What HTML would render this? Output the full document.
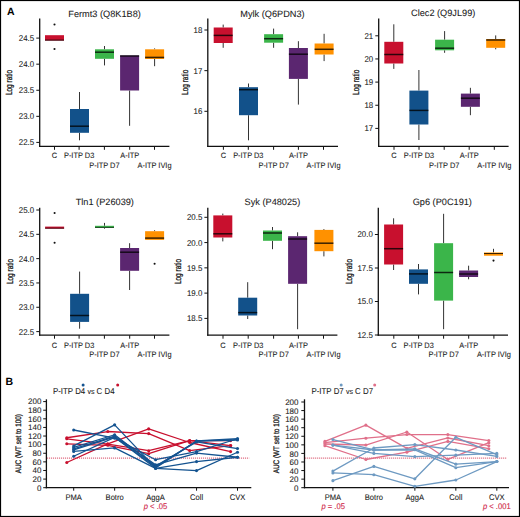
<!DOCTYPE html>
<html><head><meta charset="utf-8"><style>html,body{margin:0;padding:0;background:#fff;width:520px;height:517px;overflow:hidden;position:relative}</style></head>
<body>
<svg width="520" height="517" viewBox="0 0 520 517" style="position:absolute;left:0;top:0">
<g font-family='"Liberation Sans", sans-serif' text-rendering='geometricPrecision'>
<rect x="0.5" y="0.5" width="519" height="516" fill="none" stroke="#000" stroke-width="1.2"/>
<text x="7.00" y="15.20" font-size="10.5" text-anchor="start" fill="#000" font-weight="bold" >A</text>
<text x="5.50" y="385.30" font-size="10.5" text-anchor="start" fill="#000" font-weight="bold" >B</text>
<text x="68.30" y="16.60" font-size="9.2" text-anchor="start" fill="#1a1a1a" font-weight="normal"  stroke="#1a1a1a" stroke-width="0.08">Fermt3 (Q8K1B8)</text>
<line x1="39.70" y1="18.40" x2="39.70" y2="146.90" stroke="#111" stroke-width="1.3" />
<line x1="39.10" y1="146.30" x2="169.40" y2="146.30" stroke="#111" stroke-width="1.3" />
<line x1="36.30" y1="38.10" x2="39.70" y2="38.10" stroke="#111" stroke-width="1.0" />
<text x="0" y="0" transform="translate(34.20,41.05) scale(0.94,1)" font-size="8.4" text-anchor="end" fill="#1a1a1a" font-weight="normal"  stroke="#1a1a1a" stroke-width="0.08">24.5</text>
<line x1="36.30" y1="64.18" x2="39.70" y2="64.18" stroke="#111" stroke-width="1.0" />
<text x="0" y="0" transform="translate(34.20,67.13) scale(0.94,1)" font-size="8.4" text-anchor="end" fill="#1a1a1a" font-weight="normal"  stroke="#1a1a1a" stroke-width="0.08">24.0</text>
<line x1="36.30" y1="90.25" x2="39.70" y2="90.25" stroke="#111" stroke-width="1.0" />
<text x="0" y="0" transform="translate(34.20,93.20) scale(0.94,1)" font-size="8.4" text-anchor="end" fill="#1a1a1a" font-weight="normal"  stroke="#1a1a1a" stroke-width="0.08">23.5</text>
<line x1="36.30" y1="116.33" x2="39.70" y2="116.33" stroke="#111" stroke-width="1.0" />
<text x="0" y="0" transform="translate(34.20,119.28) scale(0.94,1)" font-size="8.4" text-anchor="end" fill="#1a1a1a" font-weight="normal"  stroke="#1a1a1a" stroke-width="0.08">23.0</text>
<line x1="36.30" y1="142.40" x2="39.70" y2="142.40" stroke="#111" stroke-width="1.0" />
<text x="0" y="0" transform="translate(34.20,145.35) scale(0.94,1)" font-size="8.4" text-anchor="end" fill="#1a1a1a" font-weight="normal"  stroke="#1a1a1a" stroke-width="0.08">22.5</text>
<line x1="54.50" y1="146.30" x2="54.50" y2="149.80" stroke="#111" stroke-width="1.0" />
<text x="0" y="0" transform="translate(54.50,158.30) scale(0.95,1)" font-size="7.8" text-anchor="middle" fill="#1a1a1a" font-weight="normal"  stroke="#1a1a1a" stroke-width="0.08">C</text>
<line x1="79.10" y1="146.30" x2="79.10" y2="149.80" stroke="#111" stroke-width="1.0" />
<text x="0" y="0" transform="translate(79.10,158.30) scale(0.95,1)" font-size="7.8" text-anchor="middle" fill="#1a1a1a" font-weight="normal"  stroke="#1a1a1a" stroke-width="0.08">P-ITP D3</text>
<line x1="104.40" y1="146.30" x2="104.40" y2="149.80" stroke="#111" stroke-width="1.0" />
<text x="0" y="0" transform="translate(104.40,168.00) scale(0.95,1)" font-size="7.8" text-anchor="middle" fill="#1a1a1a" font-weight="normal"  stroke="#1a1a1a" stroke-width="0.08">P-ITP D7</text>
<line x1="129.70" y1="146.30" x2="129.70" y2="149.80" stroke="#111" stroke-width="1.0" />
<text x="0" y="0" transform="translate(129.70,158.30) scale(0.95,1)" font-size="7.8" text-anchor="middle" fill="#1a1a1a" font-weight="normal"  stroke="#1a1a1a" stroke-width="0.08">A-ITP</text>
<line x1="154.50" y1="146.30" x2="154.50" y2="149.80" stroke="#111" stroke-width="1.0" />
<text x="0" y="0" transform="translate(154.50,168.00) scale(0.95,1)" font-size="7.8" text-anchor="middle" fill="#1a1a1a" font-weight="normal"  stroke="#1a1a1a" stroke-width="0.08">A-ITP IVIg</text>
<text x="0" y="0" font-size="9.0" text-anchor="middle" fill="#1a1a1a" stroke="#1a1a1a" stroke-width="0.32" transform="translate(12.2,82.5) rotate(-90) scale(0.72,1)">Log ratio</text>
<rect x="45.00" y="35.20" width="19.00" height="5.40" fill="#C8102E"/>
<line x1="45.00" y1="40.10" x2="64.00" y2="40.10" stroke="#000" stroke-width="1.0" stroke-opacity="0.78"/>
<circle cx="54.50" cy="24.50" r="1.05" fill="#111"/>
<circle cx="54.50" cy="49.00" r="1.05" fill="#111"/>
<line x1="79.50" y1="92.00" x2="79.50" y2="109.00" stroke="#333" stroke-width="1.0" />
<line x1="79.50" y1="132.80" x2="79.50" y2="140.30" stroke="#333" stroke-width="1.0" />
<rect x="70.00" y="109.00" width="19.00" height="23.80" fill="#12518A"/>
<line x1="70.00" y1="126.20" x2="89.00" y2="126.20" stroke="#000" stroke-width="1.5" stroke-opacity="0.78"/>
<line x1="104.50" y1="46.00" x2="104.50" y2="49.30" stroke="#333" stroke-width="1.0" />
<line x1="104.50" y1="58.80" x2="104.50" y2="65.40" stroke="#333" stroke-width="1.0" />
<rect x="95.00" y="49.30" width="19.00" height="9.50" fill="#3BB54A"/>
<line x1="95.00" y1="52.20" x2="114.00" y2="52.20" stroke="#000" stroke-width="1.5" stroke-opacity="0.78"/>
<line x1="129.60" y1="90.50" x2="129.60" y2="125.80" stroke="#333" stroke-width="1.0" />
<rect x="120.10" y="55.50" width="19.00" height="35.00" fill="#5B2670"/>
<line x1="120.10" y1="56.00" x2="139.10" y2="56.00" stroke="#000" stroke-width="1.5" stroke-opacity="0.78"/>
<line x1="154.60" y1="48.40" x2="154.60" y2="49.30" stroke="#333" stroke-width="1.0" />
<line x1="154.60" y1="59.00" x2="154.60" y2="66.20" stroke="#333" stroke-width="1.0" />
<rect x="145.10" y="49.30" width="19.00" height="9.70" fill="#FF9100"/>
<line x1="145.10" y1="57.40" x2="164.10" y2="57.40" stroke="#000" stroke-width="1.5" stroke-opacity="0.78"/>
<text x="240.30" y="16.50" font-size="9.2" text-anchor="start" fill="#1a1a1a" font-weight="normal"  stroke="#1a1a1a" stroke-width="0.08">Mylk (Q6PDN3)</text>
<line x1="207.80" y1="18.40" x2="207.80" y2="146.90" stroke="#111" stroke-width="1.3" />
<line x1="207.20" y1="146.30" x2="338.00" y2="146.30" stroke="#111" stroke-width="1.3" />
<line x1="204.40" y1="30.00" x2="207.80" y2="30.00" stroke="#111" stroke-width="1.0" />
<text x="0" y="0" transform="translate(202.30,32.95) scale(0.94,1)" font-size="8.4" text-anchor="end" fill="#1a1a1a" font-weight="normal"  stroke="#1a1a1a" stroke-width="0.08">18</text>
<line x1="204.40" y1="70.65" x2="207.80" y2="70.65" stroke="#111" stroke-width="1.0" />
<text x="0" y="0" transform="translate(202.30,73.60) scale(0.94,1)" font-size="8.4" text-anchor="end" fill="#1a1a1a" font-weight="normal"  stroke="#1a1a1a" stroke-width="0.08">17</text>
<line x1="204.40" y1="111.30" x2="207.80" y2="111.30" stroke="#111" stroke-width="1.0" />
<text x="0" y="0" transform="translate(202.30,114.25) scale(0.94,1)" font-size="8.4" text-anchor="end" fill="#1a1a1a" font-weight="normal"  stroke="#1a1a1a" stroke-width="0.08">16</text>
<line x1="223.40" y1="146.30" x2="223.40" y2="149.80" stroke="#111" stroke-width="1.0" />
<text x="0" y="0" transform="translate(223.40,158.30) scale(0.95,1)" font-size="7.8" text-anchor="middle" fill="#1a1a1a" font-weight="normal"  stroke="#1a1a1a" stroke-width="0.08">C</text>
<line x1="248.30" y1="146.30" x2="248.30" y2="149.80" stroke="#111" stroke-width="1.0" />
<text x="0" y="0" transform="translate(248.30,158.30) scale(0.95,1)" font-size="7.8" text-anchor="middle" fill="#1a1a1a" font-weight="normal"  stroke="#1a1a1a" stroke-width="0.08">P-ITP D3</text>
<line x1="273.60" y1="146.30" x2="273.60" y2="149.80" stroke="#111" stroke-width="1.0" />
<text x="0" y="0" transform="translate(273.60,168.00) scale(0.95,1)" font-size="7.8" text-anchor="middle" fill="#1a1a1a" font-weight="normal"  stroke="#1a1a1a" stroke-width="0.08">P-ITP D7</text>
<line x1="298.40" y1="146.30" x2="298.40" y2="149.80" stroke="#111" stroke-width="1.0" />
<text x="0" y="0" transform="translate(298.40,158.30) scale(0.95,1)" font-size="7.8" text-anchor="middle" fill="#1a1a1a" font-weight="normal"  stroke="#1a1a1a" stroke-width="0.08">A-ITP</text>
<line x1="323.50" y1="146.30" x2="323.50" y2="149.80" stroke="#111" stroke-width="1.0" />
<text x="0" y="0" transform="translate(323.50,168.00) scale(0.95,1)" font-size="7.8" text-anchor="middle" fill="#1a1a1a" font-weight="normal"  stroke="#1a1a1a" stroke-width="0.08">A-ITP IVIg</text>
<text x="0" y="0" font-size="9.0" text-anchor="middle" fill="#1a1a1a" stroke="#1a1a1a" stroke-width="0.32" transform="translate(187.5,82.3) rotate(-90) scale(0.72,1)">Log ratio</text>
<line x1="223.20" y1="24.60" x2="223.20" y2="27.50" stroke="#333" stroke-width="1.0" />
<line x1="223.20" y1="43.00" x2="223.20" y2="47.80" stroke="#333" stroke-width="1.0" />
<rect x="213.70" y="27.50" width="19.00" height="15.50" fill="#C8102E"/>
<line x1="213.70" y1="35.40" x2="232.70" y2="35.40" stroke="#000" stroke-width="1.5" stroke-opacity="0.78"/>
<line x1="248.50" y1="83.50" x2="248.50" y2="87.20" stroke="#333" stroke-width="1.0" />
<line x1="248.50" y1="115.20" x2="248.50" y2="140.30" stroke="#333" stroke-width="1.0" />
<rect x="239.00" y="87.20" width="19.00" height="28.00" fill="#12518A"/>
<line x1="239.00" y1="89.70" x2="258.00" y2="89.70" stroke="#000" stroke-width="1.5" stroke-opacity="0.78"/>
<line x1="273.60" y1="28.60" x2="273.60" y2="34.20" stroke="#333" stroke-width="1.0" />
<line x1="273.60" y1="42.70" x2="273.60" y2="47.80" stroke="#333" stroke-width="1.0" />
<rect x="264.10" y="34.20" width="19.00" height="8.50" fill="#3BB54A"/>
<line x1="264.10" y1="38.70" x2="283.10" y2="38.70" stroke="#000" stroke-width="1.5" stroke-opacity="0.78"/>
<line x1="298.40" y1="41.20" x2="298.40" y2="48.00" stroke="#333" stroke-width="1.0" />
<line x1="298.40" y1="78.90" x2="298.40" y2="104.60" stroke="#333" stroke-width="1.0" />
<rect x="288.90" y="48.00" width="19.00" height="30.90" fill="#5B2670"/>
<line x1="288.90" y1="54.20" x2="307.90" y2="54.20" stroke="#000" stroke-width="1.5" stroke-opacity="0.78"/>
<line x1="324.10" y1="33.80" x2="324.10" y2="43.50" stroke="#333" stroke-width="1.0" />
<line x1="324.10" y1="54.50" x2="324.10" y2="61.10" stroke="#333" stroke-width="1.0" />
<rect x="314.60" y="43.50" width="19.00" height="11.00" fill="#FF9100"/>
<line x1="314.60" y1="49.30" x2="333.60" y2="49.30" stroke="#000" stroke-width="1.5" stroke-opacity="0.78"/>
<text x="411.00" y="16.30" font-size="9.2" text-anchor="start" fill="#1a1a1a" font-weight="normal"  stroke="#1a1a1a" stroke-width="0.08">Clec2 (Q9JL99)</text>
<line x1="378.70" y1="18.40" x2="378.70" y2="146.90" stroke="#111" stroke-width="1.3" />
<line x1="378.10" y1="146.30" x2="508.60" y2="146.30" stroke="#111" stroke-width="1.3" />
<line x1="375.30" y1="35.80" x2="378.70" y2="35.80" stroke="#111" stroke-width="1.0" />
<text x="0" y="0" transform="translate(373.20,38.75) scale(0.94,1)" font-size="8.4" text-anchor="end" fill="#1a1a1a" font-weight="normal"  stroke="#1a1a1a" stroke-width="0.08">21</text>
<line x1="375.30" y1="58.95" x2="378.70" y2="58.95" stroke="#111" stroke-width="1.0" />
<text x="0" y="0" transform="translate(373.20,61.90) scale(0.94,1)" font-size="8.4" text-anchor="end" fill="#1a1a1a" font-weight="normal"  stroke="#1a1a1a" stroke-width="0.08">20</text>
<line x1="375.30" y1="82.10" x2="378.70" y2="82.10" stroke="#111" stroke-width="1.0" />
<text x="0" y="0" transform="translate(373.20,85.05) scale(0.94,1)" font-size="8.4" text-anchor="end" fill="#1a1a1a" font-weight="normal"  stroke="#1a1a1a" stroke-width="0.08">19</text>
<line x1="375.30" y1="105.25" x2="378.70" y2="105.25" stroke="#111" stroke-width="1.0" />
<text x="0" y="0" transform="translate(373.20,108.20) scale(0.94,1)" font-size="8.4" text-anchor="end" fill="#1a1a1a" font-weight="normal"  stroke="#1a1a1a" stroke-width="0.08">18</text>
<line x1="375.30" y1="128.40" x2="378.70" y2="128.40" stroke="#111" stroke-width="1.0" />
<text x="0" y="0" transform="translate(373.20,131.35) scale(0.94,1)" font-size="8.4" text-anchor="end" fill="#1a1a1a" font-weight="normal"  stroke="#1a1a1a" stroke-width="0.08">17</text>
<line x1="394.00" y1="146.30" x2="394.00" y2="149.80" stroke="#111" stroke-width="1.0" />
<text x="0" y="0" transform="translate(394.00,158.30) scale(0.95,1)" font-size="7.8" text-anchor="middle" fill="#1a1a1a" font-weight="normal"  stroke="#1a1a1a" stroke-width="0.08">C</text>
<line x1="419.00" y1="146.30" x2="419.00" y2="149.80" stroke="#111" stroke-width="1.0" />
<text x="0" y="0" transform="translate(419.00,158.30) scale(0.95,1)" font-size="7.8" text-anchor="middle" fill="#1a1a1a" font-weight="normal"  stroke="#1a1a1a" stroke-width="0.08">P-ITP D3</text>
<line x1="444.20" y1="146.30" x2="444.20" y2="149.80" stroke="#111" stroke-width="1.0" />
<text x="0" y="0" transform="translate(444.20,168.00) scale(0.95,1)" font-size="7.8" text-anchor="middle" fill="#1a1a1a" font-weight="normal"  stroke="#1a1a1a" stroke-width="0.08">P-ITP D7</text>
<line x1="469.20" y1="146.30" x2="469.20" y2="149.80" stroke="#111" stroke-width="1.0" />
<text x="0" y="0" transform="translate(469.20,158.30) scale(0.95,1)" font-size="7.8" text-anchor="middle" fill="#1a1a1a" font-weight="normal"  stroke="#1a1a1a" stroke-width="0.08">A-ITP</text>
<line x1="494.30" y1="146.30" x2="494.30" y2="149.80" stroke="#111" stroke-width="1.0" />
<text x="0" y="0" transform="translate(494.30,168.00) scale(0.95,1)" font-size="7.8" text-anchor="middle" fill="#1a1a1a" font-weight="normal"  stroke="#1a1a1a" stroke-width="0.08">A-ITP IVIg</text>
<text x="0" y="0" font-size="9.0" text-anchor="middle" fill="#1a1a1a" stroke="#1a1a1a" stroke-width="0.32" transform="translate(358.7,82.3) rotate(-90) scale(0.72,1)">Log ratio</text>
<line x1="393.80" y1="24.30" x2="393.80" y2="41.80" stroke="#333" stroke-width="1.0" />
<line x1="393.80" y1="63.50" x2="393.80" y2="68.90" stroke="#333" stroke-width="1.0" />
<rect x="384.30" y="41.80" width="19.00" height="21.70" fill="#C8102E"/>
<line x1="384.30" y1="54.50" x2="403.30" y2="54.50" stroke="#000" stroke-width="1.5" stroke-opacity="0.78"/>
<line x1="418.90" y1="70.00" x2="418.90" y2="90.60" stroke="#333" stroke-width="1.0" />
<line x1="418.90" y1="124.50" x2="418.90" y2="140.00" stroke="#333" stroke-width="1.0" />
<rect x="409.40" y="90.60" width="19.00" height="33.90" fill="#12518A"/>
<line x1="409.40" y1="110.40" x2="428.40" y2="110.40" stroke="#000" stroke-width="1.5" stroke-opacity="0.78"/>
<line x1="444.60" y1="31.10" x2="444.60" y2="39.70" stroke="#333" stroke-width="1.0" />
<line x1="444.60" y1="50.30" x2="444.60" y2="52.80" stroke="#333" stroke-width="1.0" />
<rect x="435.10" y="39.70" width="19.00" height="10.60" fill="#3BB54A"/>
<line x1="435.10" y1="48.20" x2="454.10" y2="48.20" stroke="#000" stroke-width="1.5" stroke-opacity="0.78"/>
<line x1="470.40" y1="87.80" x2="470.40" y2="93.60" stroke="#333" stroke-width="1.0" />
<line x1="470.40" y1="106.80" x2="470.40" y2="115.20" stroke="#333" stroke-width="1.0" />
<rect x="460.90" y="93.60" width="19.00" height="13.20" fill="#5B2670"/>
<line x1="460.90" y1="98.20" x2="479.90" y2="98.20" stroke="#000" stroke-width="1.5" stroke-opacity="0.78"/>
<line x1="495.70" y1="35.40" x2="495.70" y2="39.00" stroke="#333" stroke-width="1.0" />
<line x1="495.70" y1="47.80" x2="495.70" y2="49.30" stroke="#333" stroke-width="1.0" />
<rect x="486.20" y="39.00" width="19.00" height="8.80" fill="#FF9100"/>
<line x1="486.20" y1="40.00" x2="505.20" y2="40.00" stroke="#000" stroke-width="1.5" stroke-opacity="0.78"/>
<text x="75.70" y="205.00" font-size="9.2" text-anchor="start" fill="#1a1a1a" font-weight="normal"  stroke="#1a1a1a" stroke-width="0.08">Tln1 (P26039)</text>
<line x1="39.70" y1="207.70" x2="39.70" y2="335.80" stroke="#111" stroke-width="1.3" />
<line x1="39.10" y1="335.20" x2="169.40" y2="335.20" stroke="#111" stroke-width="1.3" />
<line x1="36.30" y1="210.00" x2="39.70" y2="210.00" stroke="#111" stroke-width="1.0" />
<text x="0" y="0" transform="translate(34.20,212.95) scale(0.94,1)" font-size="8.4" text-anchor="end" fill="#1a1a1a" font-weight="normal"  stroke="#1a1a1a" stroke-width="0.08">25.0</text>
<line x1="36.30" y1="234.32" x2="39.70" y2="234.32" stroke="#111" stroke-width="1.0" />
<text x="0" y="0" transform="translate(34.20,237.27) scale(0.94,1)" font-size="8.4" text-anchor="end" fill="#1a1a1a" font-weight="normal"  stroke="#1a1a1a" stroke-width="0.08">24.5</text>
<line x1="36.30" y1="258.64" x2="39.70" y2="258.64" stroke="#111" stroke-width="1.0" />
<text x="0" y="0" transform="translate(34.20,261.59) scale(0.94,1)" font-size="8.4" text-anchor="end" fill="#1a1a1a" font-weight="normal"  stroke="#1a1a1a" stroke-width="0.08">24.0</text>
<line x1="36.30" y1="282.96" x2="39.70" y2="282.96" stroke="#111" stroke-width="1.0" />
<text x="0" y="0" transform="translate(34.20,285.91) scale(0.94,1)" font-size="8.4" text-anchor="end" fill="#1a1a1a" font-weight="normal"  stroke="#1a1a1a" stroke-width="0.08">23.5</text>
<line x1="36.30" y1="307.28" x2="39.70" y2="307.28" stroke="#111" stroke-width="1.0" />
<text x="0" y="0" transform="translate(34.20,310.23) scale(0.94,1)" font-size="8.4" text-anchor="end" fill="#1a1a1a" font-weight="normal"  stroke="#1a1a1a" stroke-width="0.08">23.0</text>
<line x1="36.30" y1="331.60" x2="39.70" y2="331.60" stroke="#111" stroke-width="1.0" />
<text x="0" y="0" transform="translate(34.20,334.55) scale(0.94,1)" font-size="8.4" text-anchor="end" fill="#1a1a1a" font-weight="normal"  stroke="#1a1a1a" stroke-width="0.08">22.5</text>
<line x1="54.50" y1="335.20" x2="54.50" y2="338.70" stroke="#111" stroke-width="1.0" />
<text x="0" y="0" transform="translate(54.50,347.70) scale(0.95,1)" font-size="7.8" text-anchor="middle" fill="#1a1a1a" font-weight="normal"  stroke="#1a1a1a" stroke-width="0.08">C</text>
<line x1="79.10" y1="335.20" x2="79.10" y2="338.70" stroke="#111" stroke-width="1.0" />
<text x="0" y="0" transform="translate(79.10,347.70) scale(0.95,1)" font-size="7.8" text-anchor="middle" fill="#1a1a1a" font-weight="normal"  stroke="#1a1a1a" stroke-width="0.08">P-ITP D3</text>
<line x1="104.40" y1="335.20" x2="104.40" y2="338.70" stroke="#111" stroke-width="1.0" />
<text x="0" y="0" transform="translate(104.40,357.40) scale(0.95,1)" font-size="7.8" text-anchor="middle" fill="#1a1a1a" font-weight="normal"  stroke="#1a1a1a" stroke-width="0.08">P-ITP D7</text>
<line x1="129.70" y1="335.20" x2="129.70" y2="338.70" stroke="#111" stroke-width="1.0" />
<text x="0" y="0" transform="translate(129.70,347.70) scale(0.95,1)" font-size="7.8" text-anchor="middle" fill="#1a1a1a" font-weight="normal"  stroke="#1a1a1a" stroke-width="0.08">A-ITP</text>
<line x1="154.50" y1="335.20" x2="154.50" y2="338.70" stroke="#111" stroke-width="1.0" />
<text x="0" y="0" transform="translate(154.50,357.40) scale(0.95,1)" font-size="7.8" text-anchor="middle" fill="#1a1a1a" font-weight="normal"  stroke="#1a1a1a" stroke-width="0.08">A-ITP IVIg</text>
<text x="0" y="0" font-size="9.0" text-anchor="middle" fill="#1a1a1a" stroke="#1a1a1a" stroke-width="0.32" transform="translate(12.5,271.5) rotate(-90) scale(0.72,1)">Log ratio</text>
<rect x="45.10" y="226.60" width="19.00" height="2.10" fill="#C8102E"/>
<line x1="45.10" y1="228.20" x2="64.10" y2="228.20" stroke="#000" stroke-width="0.8" stroke-opacity="0.78"/>
<circle cx="54.60" cy="213.00" r="1.05" fill="#111"/>
<circle cx="54.60" cy="242.70" r="1.05" fill="#111"/>
<line x1="79.60" y1="271.60" x2="79.60" y2="293.80" stroke="#333" stroke-width="1.0" />
<line x1="79.60" y1="321.90" x2="79.60" y2="328.70" stroke="#333" stroke-width="1.0" />
<rect x="70.10" y="293.80" width="19.00" height="28.10" fill="#12518A"/>
<line x1="70.10" y1="315.50" x2="89.10" y2="315.50" stroke="#000" stroke-width="1.5" stroke-opacity="0.78"/>
<line x1="104.50" y1="222.90" x2="104.50" y2="225.80" stroke="#333" stroke-width="1.0" />
<line x1="104.50" y1="227.90" x2="104.50" y2="228.70" stroke="#333" stroke-width="1.0" />
<rect x="95.00" y="225.80" width="19.00" height="2.10" fill="#3BB54A"/>
<line x1="95.00" y1="227.40" x2="114.00" y2="227.40" stroke="#000" stroke-width="0.8" stroke-opacity="0.78"/>
<line x1="129.60" y1="243.20" x2="129.60" y2="248.00" stroke="#333" stroke-width="1.0" />
<line x1="129.60" y1="270.80" x2="129.60" y2="290.00" stroke="#333" stroke-width="1.0" />
<rect x="120.10" y="248.00" width="19.00" height="22.80" fill="#5B2670"/>
<line x1="120.10" y1="252.20" x2="139.10" y2="252.20" stroke="#000" stroke-width="1.5" stroke-opacity="0.78"/>
<line x1="154.60" y1="230.20" x2="154.60" y2="231.20" stroke="#333" stroke-width="1.0" />
<rect x="145.10" y="231.20" width="19.00" height="8.70" fill="#FF9100"/>
<line x1="145.10" y1="238.10" x2="164.10" y2="238.10" stroke="#000" stroke-width="1.5" stroke-opacity="0.78"/>
<circle cx="154.60" cy="263.80" r="1.05" fill="#111"/>
<text x="244.60" y="205.00" font-size="9.2" text-anchor="start" fill="#1a1a1a" font-weight="normal"  stroke="#1a1a1a" stroke-width="0.08">Syk (P48025)</text>
<line x1="207.80" y1="207.70" x2="207.80" y2="335.80" stroke="#111" stroke-width="1.3" />
<line x1="207.20" y1="335.20" x2="337.40" y2="335.20" stroke="#111" stroke-width="1.3" />
<line x1="204.40" y1="217.30" x2="207.80" y2="217.30" stroke="#111" stroke-width="1.0" />
<text x="0" y="0" transform="translate(202.30,220.25) scale(0.94,1)" font-size="8.4" text-anchor="end" fill="#1a1a1a" font-weight="normal"  stroke="#1a1a1a" stroke-width="0.08">20.5</text>
<line x1="204.40" y1="242.57" x2="207.80" y2="242.57" stroke="#111" stroke-width="1.0" />
<text x="0" y="0" transform="translate(202.30,245.52) scale(0.94,1)" font-size="8.4" text-anchor="end" fill="#1a1a1a" font-weight="normal"  stroke="#1a1a1a" stroke-width="0.08">20.0</text>
<line x1="204.40" y1="267.85" x2="207.80" y2="267.85" stroke="#111" stroke-width="1.0" />
<text x="0" y="0" transform="translate(202.30,270.80) scale(0.94,1)" font-size="8.4" text-anchor="end" fill="#1a1a1a" font-weight="normal"  stroke="#1a1a1a" stroke-width="0.08">19.5</text>
<line x1="204.40" y1="293.12" x2="207.80" y2="293.12" stroke="#111" stroke-width="1.0" />
<text x="0" y="0" transform="translate(202.30,296.07) scale(0.94,1)" font-size="8.4" text-anchor="end" fill="#1a1a1a" font-weight="normal"  stroke="#1a1a1a" stroke-width="0.08">19.0</text>
<line x1="204.40" y1="318.40" x2="207.80" y2="318.40" stroke="#111" stroke-width="1.0" />
<text x="0" y="0" transform="translate(202.30,321.35) scale(0.94,1)" font-size="8.4" text-anchor="end" fill="#1a1a1a" font-weight="normal"  stroke="#1a1a1a" stroke-width="0.08">18.5</text>
<line x1="223.00" y1="335.20" x2="223.00" y2="338.70" stroke="#111" stroke-width="1.0" />
<text x="0" y="0" transform="translate(223.00,347.70) scale(0.95,1)" font-size="7.8" text-anchor="middle" fill="#1a1a1a" font-weight="normal"  stroke="#1a1a1a" stroke-width="0.08">C</text>
<line x1="248.20" y1="335.20" x2="248.20" y2="338.70" stroke="#111" stroke-width="1.0" />
<text x="0" y="0" transform="translate(248.20,347.70) scale(0.95,1)" font-size="7.8" text-anchor="middle" fill="#1a1a1a" font-weight="normal"  stroke="#1a1a1a" stroke-width="0.08">P-ITP D3</text>
<line x1="273.60" y1="335.20" x2="273.60" y2="338.70" stroke="#111" stroke-width="1.0" />
<text x="0" y="0" transform="translate(273.60,357.40) scale(0.95,1)" font-size="7.8" text-anchor="middle" fill="#1a1a1a" font-weight="normal"  stroke="#1a1a1a" stroke-width="0.08">P-ITP D7</text>
<line x1="298.40" y1="335.20" x2="298.40" y2="338.70" stroke="#111" stroke-width="1.0" />
<text x="0" y="0" transform="translate(298.40,347.70) scale(0.95,1)" font-size="7.8" text-anchor="middle" fill="#1a1a1a" font-weight="normal"  stroke="#1a1a1a" stroke-width="0.08">A-ITP</text>
<line x1="323.50" y1="335.20" x2="323.50" y2="338.70" stroke="#111" stroke-width="1.0" />
<text x="0" y="0" transform="translate(323.50,357.40) scale(0.95,1)" font-size="7.8" text-anchor="middle" fill="#1a1a1a" font-weight="normal"  stroke="#1a1a1a" stroke-width="0.08">A-ITP IVIg</text>
<text x="0" y="0" font-size="9.0" text-anchor="middle" fill="#1a1a1a" stroke="#1a1a1a" stroke-width="0.32" transform="translate(180.5,271.5) rotate(-90) scale(0.72,1)">Log ratio</text>
<line x1="222.80" y1="213.60" x2="222.80" y2="215.40" stroke="#333" stroke-width="1.0" />
<line x1="222.80" y1="237.50" x2="222.80" y2="241.40" stroke="#333" stroke-width="1.0" />
<rect x="213.30" y="215.40" width="19.00" height="22.10" fill="#C8102E"/>
<line x1="213.30" y1="233.80" x2="232.30" y2="233.80" stroke="#000" stroke-width="1.5" stroke-opacity="0.78"/>
<line x1="247.70" y1="282.20" x2="247.70" y2="297.70" stroke="#333" stroke-width="1.0" />
<line x1="247.70" y1="315.50" x2="247.70" y2="319.00" stroke="#333" stroke-width="1.0" />
<rect x="238.20" y="297.70" width="19.00" height="17.80" fill="#12518A"/>
<line x1="238.20" y1="312.60" x2="257.20" y2="312.60" stroke="#000" stroke-width="1.5" stroke-opacity="0.78"/>
<line x1="272.50" y1="227.00" x2="272.50" y2="230.50" stroke="#333" stroke-width="1.0" />
<line x1="272.50" y1="240.80" x2="272.50" y2="249.20" stroke="#333" stroke-width="1.0" />
<rect x="263.00" y="230.50" width="19.00" height="10.30" fill="#3BB54A"/>
<line x1="263.00" y1="233.00" x2="282.00" y2="233.00" stroke="#000" stroke-width="1.5" stroke-opacity="0.78"/>
<line x1="297.60" y1="232.30" x2="297.60" y2="236.20" stroke="#333" stroke-width="1.0" />
<line x1="297.60" y1="283.80" x2="297.60" y2="329.20" stroke="#333" stroke-width="1.0" />
<rect x="288.10" y="236.20" width="19.00" height="47.60" fill="#5B2670"/>
<line x1="288.10" y1="239.00" x2="307.10" y2="239.00" stroke="#000" stroke-width="1.5" stroke-opacity="0.78"/>
<line x1="323.90" y1="229.00" x2="323.90" y2="229.90" stroke="#333" stroke-width="1.0" />
<line x1="323.90" y1="251.20" x2="323.90" y2="256.40" stroke="#333" stroke-width="1.0" />
<rect x="314.40" y="229.90" width="19.00" height="21.30" fill="#FF9100"/>
<line x1="314.40" y1="243.20" x2="333.40" y2="243.20" stroke="#000" stroke-width="1.5" stroke-opacity="0.78"/>
<text x="412.70" y="205.00" font-size="9.2" text-anchor="start" fill="#1a1a1a" font-weight="normal"  stroke="#1a1a1a" stroke-width="0.08">Gp6 (P0C191)</text>
<line x1="378.30" y1="207.70" x2="378.30" y2="335.80" stroke="#111" stroke-width="1.3" />
<line x1="377.70" y1="335.20" x2="508.00" y2="335.20" stroke="#111" stroke-width="1.3" />
<line x1="374.90" y1="234.50" x2="378.30" y2="234.50" stroke="#111" stroke-width="1.0" />
<text x="0" y="0" transform="translate(372.80,237.45) scale(0.94,1)" font-size="8.4" text-anchor="end" fill="#1a1a1a" font-weight="normal"  stroke="#1a1a1a" stroke-width="0.08">20.0</text>
<line x1="374.90" y1="268.00" x2="378.30" y2="268.00" stroke="#111" stroke-width="1.0" />
<text x="0" y="0" transform="translate(372.80,270.95) scale(0.94,1)" font-size="8.4" text-anchor="end" fill="#1a1a1a" font-weight="normal"  stroke="#1a1a1a" stroke-width="0.08">17.5</text>
<line x1="374.90" y1="301.50" x2="378.30" y2="301.50" stroke="#111" stroke-width="1.0" />
<text x="0" y="0" transform="translate(372.80,304.45) scale(0.94,1)" font-size="8.4" text-anchor="end" fill="#1a1a1a" font-weight="normal"  stroke="#1a1a1a" stroke-width="0.08">15.0</text>
<line x1="374.90" y1="335.00" x2="378.30" y2="335.00" stroke="#111" stroke-width="1.0" />
<text x="0" y="0" transform="translate(372.80,337.95) scale(0.94,1)" font-size="8.4" text-anchor="end" fill="#1a1a1a" font-weight="normal"  stroke="#1a1a1a" stroke-width="0.08">12.5</text>
<line x1="393.80" y1="335.20" x2="393.80" y2="338.70" stroke="#111" stroke-width="1.0" />
<text x="0" y="0" transform="translate(393.80,347.70) scale(0.95,1)" font-size="7.8" text-anchor="middle" fill="#1a1a1a" font-weight="normal"  stroke="#1a1a1a" stroke-width="0.08">C</text>
<line x1="418.60" y1="335.20" x2="418.60" y2="338.70" stroke="#111" stroke-width="1.0" />
<text x="0" y="0" transform="translate(418.60,347.70) scale(0.95,1)" font-size="7.8" text-anchor="middle" fill="#1a1a1a" font-weight="normal"  stroke="#1a1a1a" stroke-width="0.08">P-ITP D3</text>
<line x1="443.60" y1="335.20" x2="443.60" y2="338.70" stroke="#111" stroke-width="1.0" />
<text x="0" y="0" transform="translate(443.60,357.40) scale(0.95,1)" font-size="7.8" text-anchor="middle" fill="#1a1a1a" font-weight="normal"  stroke="#1a1a1a" stroke-width="0.08">P-ITP D7</text>
<line x1="468.70" y1="335.20" x2="468.70" y2="338.70" stroke="#111" stroke-width="1.0" />
<text x="0" y="0" transform="translate(468.70,347.70) scale(0.95,1)" font-size="7.8" text-anchor="middle" fill="#1a1a1a" font-weight="normal"  stroke="#1a1a1a" stroke-width="0.08">A-ITP</text>
<line x1="493.90" y1="335.20" x2="493.90" y2="338.70" stroke="#111" stroke-width="1.0" />
<text x="0" y="0" transform="translate(493.90,357.40) scale(0.95,1)" font-size="7.8" text-anchor="middle" fill="#1a1a1a" font-weight="normal"  stroke="#1a1a1a" stroke-width="0.08">A-ITP IVIg</text>
<text x="0" y="0" font-size="9.0" text-anchor="middle" fill="#1a1a1a" stroke="#1a1a1a" stroke-width="0.32" transform="translate(351.5,271.5) rotate(-90) scale(0.72,1)">Log ratio</text>
<line x1="393.60" y1="218.30" x2="393.60" y2="224.50" stroke="#333" stroke-width="1.0" />
<line x1="393.60" y1="264.50" x2="393.60" y2="270.00" stroke="#333" stroke-width="1.0" />
<rect x="384.10" y="224.50" width="19.00" height="40.00" fill="#C8102E"/>
<line x1="384.10" y1="248.70" x2="403.10" y2="248.70" stroke="#000" stroke-width="1.5" stroke-opacity="0.78"/>
<line x1="418.50" y1="264.00" x2="418.50" y2="269.40" stroke="#333" stroke-width="1.0" />
<line x1="418.50" y1="283.80" x2="418.50" y2="294.40" stroke="#333" stroke-width="1.0" />
<rect x="409.00" y="269.40" width="19.00" height="14.40" fill="#12518A"/>
<line x1="409.00" y1="273.90" x2="428.00" y2="273.90" stroke="#000" stroke-width="1.5" stroke-opacity="0.78"/>
<line x1="443.60" y1="213.80" x2="443.60" y2="243.20" stroke="#333" stroke-width="1.0" />
<line x1="443.60" y1="300.60" x2="443.60" y2="329.20" stroke="#333" stroke-width="1.0" />
<rect x="434.10" y="243.20" width="19.00" height="57.40" fill="#3BB54A"/>
<line x1="434.10" y1="272.50" x2="453.10" y2="272.50" stroke="#000" stroke-width="1.5" stroke-opacity="0.78"/>
<line x1="468.60" y1="265.70" x2="468.60" y2="270.50" stroke="#333" stroke-width="1.0" />
<line x1="468.60" y1="277.00" x2="468.60" y2="279.30" stroke="#333" stroke-width="1.0" />
<rect x="459.10" y="270.50" width="19.00" height="6.50" fill="#5B2670"/>
<line x1="459.10" y1="274.00" x2="478.10" y2="274.00" stroke="#000" stroke-width="1.5" stroke-opacity="0.78"/>
<line x1="493.50" y1="248.80" x2="493.50" y2="252.50" stroke="#333" stroke-width="1.0" />
<rect x="484.00" y="252.50" width="19.00" height="3.20" fill="#FF9100"/>
<line x1="484.00" y1="253.50" x2="503.00" y2="253.50" stroke="#000" stroke-width="1.0" stroke-opacity="0.78"/>
<circle cx="493.50" cy="260.60" r="1.05" fill="#111"/>
<text x="0" y="0" transform="translate(53.00,394.30) scale(0.925,1)" font-size="8.5" text-anchor="start" fill="#1a1a1a" font-weight="normal"  stroke="#1a1a1a" stroke-width="0.08">P-ITP D4 <tspan font-size="7.6">vs</tspan> C D4</text>
<circle cx="83.10" cy="385.0" r="1.5" fill="#145390"/>
<circle cx="117.70" cy="385.0" r="1.5" fill="#C8102E"/>
<line x1="46.40" y1="399.30" x2="46.40" y2="488.30" stroke="#111" stroke-width="1.3" />
<line x1="45.80" y1="487.70" x2="251.30" y2="487.70" stroke="#111" stroke-width="1.3" />
<line x1="43.20" y1="487.70" x2="46.40" y2="487.70" stroke="#111" stroke-width="1.0" />
<text x="41.40" y="490.50" font-size="8.0" text-anchor="end" fill="#1a1a1a" font-weight="normal"  stroke="#1a1a1a" stroke-width="0.08">0</text>
<line x1="43.20" y1="479.09" x2="46.40" y2="479.09" stroke="#111" stroke-width="1.0" />
<text x="41.40" y="481.89" font-size="8.0" text-anchor="end" fill="#1a1a1a" font-weight="normal"  stroke="#1a1a1a" stroke-width="0.08">20</text>
<line x1="43.20" y1="470.48" x2="46.40" y2="470.48" stroke="#111" stroke-width="1.0" />
<text x="41.40" y="473.28" font-size="8.0" text-anchor="end" fill="#1a1a1a" font-weight="normal"  stroke="#1a1a1a" stroke-width="0.08">40</text>
<line x1="43.20" y1="461.87" x2="46.40" y2="461.87" stroke="#111" stroke-width="1.0" />
<text x="41.40" y="464.67" font-size="8.0" text-anchor="end" fill="#1a1a1a" font-weight="normal"  stroke="#1a1a1a" stroke-width="0.08">60</text>
<line x1="43.20" y1="453.26" x2="46.40" y2="453.26" stroke="#111" stroke-width="1.0" />
<text x="41.40" y="456.06" font-size="8.0" text-anchor="end" fill="#1a1a1a" font-weight="normal"  stroke="#1a1a1a" stroke-width="0.08">80</text>
<line x1="43.20" y1="444.65" x2="46.40" y2="444.65" stroke="#111" stroke-width="1.0" />
<text x="41.40" y="447.45" font-size="8.0" text-anchor="end" fill="#1a1a1a" font-weight="normal"  stroke="#1a1a1a" stroke-width="0.08">100</text>
<line x1="43.20" y1="436.04" x2="46.40" y2="436.04" stroke="#111" stroke-width="1.0" />
<text x="41.40" y="438.84" font-size="8.0" text-anchor="end" fill="#1a1a1a" font-weight="normal"  stroke="#1a1a1a" stroke-width="0.08">120</text>
<line x1="43.20" y1="427.43" x2="46.40" y2="427.43" stroke="#111" stroke-width="1.0" />
<text x="41.40" y="430.23" font-size="8.0" text-anchor="end" fill="#1a1a1a" font-weight="normal"  stroke="#1a1a1a" stroke-width="0.08">140</text>
<line x1="43.20" y1="418.82" x2="46.40" y2="418.82" stroke="#111" stroke-width="1.0" />
<text x="41.40" y="421.62" font-size="8.0" text-anchor="end" fill="#1a1a1a" font-weight="normal"  stroke="#1a1a1a" stroke-width="0.08">160</text>
<line x1="43.20" y1="410.21" x2="46.40" y2="410.21" stroke="#111" stroke-width="1.0" />
<text x="41.40" y="413.01" font-size="8.0" text-anchor="end" fill="#1a1a1a" font-weight="normal"  stroke="#1a1a1a" stroke-width="0.08">180</text>
<line x1="43.20" y1="401.60" x2="46.40" y2="401.60" stroke="#111" stroke-width="1.0" />
<text x="41.40" y="404.40" font-size="8.0" text-anchor="end" fill="#1a1a1a" font-weight="normal"  stroke="#1a1a1a" stroke-width="0.08">200</text>
<line x1="73.70" y1="487.70" x2="73.70" y2="490.70" stroke="#111" stroke-width="1.0" />
<text x="0" y="0" transform="translate(73.70,500.00) scale(0.94,1)" font-size="8.1" text-anchor="middle" fill="#1a1a1a" font-weight="normal"  stroke="#1a1a1a" stroke-width="0.08">PMA</text>
<line x1="114.65" y1="487.70" x2="114.65" y2="490.70" stroke="#111" stroke-width="1.0" />
<text x="0" y="0" transform="translate(114.65,500.00) scale(0.94,1)" font-size="8.1" text-anchor="middle" fill="#1a1a1a" font-weight="normal"  stroke="#1a1a1a" stroke-width="0.08">Botro</text>
<line x1="155.60" y1="487.70" x2="155.60" y2="490.70" stroke="#111" stroke-width="1.0" />
<text x="0" y="0" transform="translate(155.60,500.00) scale(0.94,1)" font-size="8.1" text-anchor="middle" fill="#1a1a1a" font-weight="normal"  stroke="#1a1a1a" stroke-width="0.08">AggA</text>
<line x1="196.55" y1="487.70" x2="196.55" y2="490.70" stroke="#111" stroke-width="1.0" />
<text x="0" y="0" transform="translate(196.55,500.00) scale(0.94,1)" font-size="8.1" text-anchor="middle" fill="#1a1a1a" font-weight="normal"  stroke="#1a1a1a" stroke-width="0.08">Coll</text>
<line x1="237.50" y1="487.70" x2="237.50" y2="490.70" stroke="#111" stroke-width="1.0" />
<text x="0" y="0" transform="translate(237.50,500.00) scale(0.94,1)" font-size="8.1" text-anchor="middle" fill="#1a1a1a" font-weight="normal"  stroke="#1a1a1a" stroke-width="0.08">CVX</text>
<text x="0" y="0" font-size="8.0" text-anchor="middle" fill="#1a1a1a" stroke="#1a1a1a" stroke-width="0.3" transform="translate(20.8,443.7) rotate(-90) scale(0.80,1)">AUC (WT set to 100)</text>
<line x1="47.10" y1="458.10" x2="249.30" y2="458.10" stroke="#d2324f" stroke-width="1.0" stroke-dasharray="1,1"/>
<polyline points="66.80,437.76 107.75,431.52 148.70,433.59 189.65,450.59 230.60,445.60" fill="none" stroke="#C8102E" stroke-width="1.3" stroke-linejoin="round"/>
<circle cx="66.80" cy="437.76" r="1.55" fill="#C8102E"/>
<circle cx="107.75" cy="431.52" r="1.55" fill="#C8102E"/>
<circle cx="148.70" cy="433.59" r="1.55" fill="#C8102E"/>
<circle cx="189.65" cy="450.59" r="1.55" fill="#C8102E"/>
<circle cx="230.60" cy="445.60" r="1.55" fill="#C8102E"/>
<polyline points="66.80,462.52 107.75,443.79 148.70,428.89 189.65,442.50 230.60,451.58" fill="none" stroke="#C8102E" stroke-width="1.3" stroke-linejoin="round"/>
<circle cx="66.80" cy="462.52" r="1.55" fill="#C8102E"/>
<circle cx="107.75" cy="443.79" r="1.55" fill="#C8102E"/>
<circle cx="148.70" cy="428.89" r="1.55" fill="#C8102E"/>
<circle cx="189.65" cy="442.50" r="1.55" fill="#C8102E"/>
<circle cx="230.60" cy="451.58" r="1.55" fill="#C8102E"/>
<polyline points="66.80,438.80 107.75,444.22 148.70,450.68 189.65,440.60 230.60,440.60" fill="none" stroke="#C8102E" stroke-width="1.3" stroke-linejoin="round"/>
<circle cx="66.80" cy="438.80" r="1.55" fill="#C8102E"/>
<circle cx="107.75" cy="444.22" r="1.55" fill="#C8102E"/>
<circle cx="148.70" cy="450.68" r="1.55" fill="#C8102E"/>
<circle cx="189.65" cy="440.60" r="1.55" fill="#C8102E"/>
<circle cx="230.60" cy="440.60" r="1.55" fill="#C8102E"/>
<polyline points="66.80,443.79 107.75,445.30 148.70,453.69 189.65,440.60 230.60,445.60" fill="none" stroke="#C8102E" stroke-width="1.3" stroke-linejoin="round"/>
<circle cx="66.80" cy="443.79" r="1.55" fill="#C8102E"/>
<circle cx="107.75" cy="445.30" r="1.55" fill="#C8102E"/>
<circle cx="148.70" cy="453.69" r="1.55" fill="#C8102E"/>
<circle cx="189.65" cy="440.60" r="1.55" fill="#C8102E"/>
<circle cx="230.60" cy="445.60" r="1.55" fill="#C8102E"/>
<polyline points="73.70,445.94 114.65,424.85 155.60,467.90 196.55,440.99 237.50,440.00" fill="none" stroke="#145390" stroke-width="1.3" stroke-linejoin="round"/>
<circle cx="73.70" cy="445.94" r="1.55" fill="#145390"/>
<circle cx="114.65" cy="424.85" r="1.55" fill="#145390"/>
<circle cx="155.60" cy="467.90" r="1.55" fill="#145390"/>
<circle cx="196.55" cy="440.99" r="1.55" fill="#145390"/>
<circle cx="237.50" cy="440.00" r="1.55" fill="#145390"/>
<polyline points="73.70,430.01 114.65,438.19 155.60,459.72 196.55,451.54 237.50,438.75" fill="none" stroke="#145390" stroke-width="1.3" stroke-linejoin="round"/>
<circle cx="73.70" cy="430.01" r="1.55" fill="#145390"/>
<circle cx="114.65" cy="438.19" r="1.55" fill="#145390"/>
<circle cx="155.60" cy="459.72" r="1.55" fill="#145390"/>
<circle cx="196.55" cy="451.54" r="1.55" fill="#145390"/>
<circle cx="237.50" cy="438.75" r="1.55" fill="#145390"/>
<polyline points="73.70,447.49 114.65,434.75 155.60,466.18 196.55,441.89 237.50,448.52" fill="none" stroke="#145390" stroke-width="1.3" stroke-linejoin="round"/>
<circle cx="73.70" cy="447.49" r="1.55" fill="#145390"/>
<circle cx="114.65" cy="434.75" r="1.55" fill="#145390"/>
<circle cx="155.60" cy="466.18" r="1.55" fill="#145390"/>
<circle cx="196.55" cy="441.89" r="1.55" fill="#145390"/>
<circle cx="237.50" cy="448.52" r="1.55" fill="#145390"/>
<polyline points="73.70,448.95 114.65,436.04 155.60,464.88 196.55,453.09 237.50,457.26" fill="none" stroke="#145390" stroke-width="1.3" stroke-linejoin="round"/>
<circle cx="73.70" cy="448.95" r="1.55" fill="#145390"/>
<circle cx="114.65" cy="436.04" r="1.55" fill="#145390"/>
<circle cx="155.60" cy="464.88" r="1.55" fill="#145390"/>
<circle cx="196.55" cy="453.09" r="1.55" fill="#145390"/>
<circle cx="237.50" cy="457.26" r="1.55" fill="#145390"/>
<polyline points="73.70,451.41 114.65,447.92 155.60,468.33 196.55,470.61 237.50,452.27" fill="none" stroke="#145390" stroke-width="1.3" stroke-linejoin="round"/>
<circle cx="73.70" cy="451.41" r="1.55" fill="#145390"/>
<circle cx="114.65" cy="447.92" r="1.55" fill="#145390"/>
<circle cx="155.60" cy="468.33" r="1.55" fill="#145390"/>
<circle cx="196.55" cy="470.61" r="1.55" fill="#145390"/>
<circle cx="237.50" cy="452.27" r="1.55" fill="#145390"/>
<polyline points="73.70,456.27 114.65,437.33 155.60,468.33 196.55,461.61 237.50,457.26" fill="none" stroke="#145390" stroke-width="1.3" stroke-linejoin="round"/>
<circle cx="73.70" cy="456.27" r="1.55" fill="#145390"/>
<circle cx="114.65" cy="437.33" r="1.55" fill="#145390"/>
<circle cx="155.60" cy="468.33" r="1.55" fill="#145390"/>
<circle cx="196.55" cy="461.61" r="1.55" fill="#145390"/>
<circle cx="237.50" cy="457.26" r="1.55" fill="#145390"/>
<polyline points="73.70,449.82 114.65,436.90 155.60,467.04 196.55,440.99 237.50,438.75" fill="none" stroke="#145390" stroke-width="1.3" stroke-linejoin="round"/>
<circle cx="73.70" cy="449.82" r="1.55" fill="#145390"/>
<circle cx="114.65" cy="436.90" r="1.55" fill="#145390"/>
<circle cx="155.60" cy="467.04" r="1.55" fill="#145390"/>
<circle cx="196.55" cy="440.99" r="1.55" fill="#145390"/>
<circle cx="237.50" cy="438.75" r="1.55" fill="#145390"/>
<text x="0" y="0" transform="translate(155.50,509.2) scale(0.93,1)" font-size="8.2" text-anchor="middle" fill="#d0284a" stroke="#d0284a" stroke-width="0.12"><tspan font-style="italic">p</tspan> &lt; .05</text>
<text x="0" y="0" transform="translate(311.50,394.30) scale(0.925,1)" font-size="8.5" text-anchor="start" fill="#1a1a1a" font-weight="normal"  stroke="#1a1a1a" stroke-width="0.08">P-ITP D7 <tspan font-size="7.6">vs</tspan> C D7</text>
<circle cx="341.20" cy="385.0" r="1.5" fill="#6E9AC2"/>
<circle cx="374.70" cy="385.0" r="1.5" fill="#E0708A"/>
<line x1="304.50" y1="399.30" x2="304.50" y2="488.30" stroke="#111" stroke-width="1.3" />
<line x1="303.90" y1="487.70" x2="509.00" y2="487.70" stroke="#111" stroke-width="1.3" />
<line x1="301.30" y1="487.70" x2="304.50" y2="487.70" stroke="#111" stroke-width="1.0" />
<text x="298.50" y="490.80" font-size="8.0" text-anchor="end" fill="#1a1a1a" font-weight="normal"  stroke="#1a1a1a" stroke-width="0.08">0</text>
<line x1="301.30" y1="479.13" x2="304.50" y2="479.13" stroke="#111" stroke-width="1.0" />
<text x="298.50" y="482.23" font-size="8.0" text-anchor="end" fill="#1a1a1a" font-weight="normal"  stroke="#1a1a1a" stroke-width="0.08">20</text>
<line x1="301.30" y1="470.56" x2="304.50" y2="470.56" stroke="#111" stroke-width="1.0" />
<text x="298.50" y="473.66" font-size="8.0" text-anchor="end" fill="#1a1a1a" font-weight="normal"  stroke="#1a1a1a" stroke-width="0.08">40</text>
<line x1="301.30" y1="461.99" x2="304.50" y2="461.99" stroke="#111" stroke-width="1.0" />
<text x="298.50" y="465.09" font-size="8.0" text-anchor="end" fill="#1a1a1a" font-weight="normal"  stroke="#1a1a1a" stroke-width="0.08">60</text>
<line x1="301.30" y1="453.42" x2="304.50" y2="453.42" stroke="#111" stroke-width="1.0" />
<text x="298.50" y="456.52" font-size="8.0" text-anchor="end" fill="#1a1a1a" font-weight="normal"  stroke="#1a1a1a" stroke-width="0.08">80</text>
<line x1="301.30" y1="444.85" x2="304.50" y2="444.85" stroke="#111" stroke-width="1.0" />
<text x="298.50" y="447.95" font-size="8.0" text-anchor="end" fill="#1a1a1a" font-weight="normal"  stroke="#1a1a1a" stroke-width="0.08">100</text>
<line x1="301.30" y1="436.28" x2="304.50" y2="436.28" stroke="#111" stroke-width="1.0" />
<text x="298.50" y="439.38" font-size="8.0" text-anchor="end" fill="#1a1a1a" font-weight="normal"  stroke="#1a1a1a" stroke-width="0.08">120</text>
<line x1="301.30" y1="427.71" x2="304.50" y2="427.71" stroke="#111" stroke-width="1.0" />
<text x="298.50" y="430.81" font-size="8.0" text-anchor="end" fill="#1a1a1a" font-weight="normal"  stroke="#1a1a1a" stroke-width="0.08">140</text>
<line x1="301.30" y1="419.14" x2="304.50" y2="419.14" stroke="#111" stroke-width="1.0" />
<text x="298.50" y="422.24" font-size="8.0" text-anchor="end" fill="#1a1a1a" font-weight="normal"  stroke="#1a1a1a" stroke-width="0.08">160</text>
<line x1="301.30" y1="410.57" x2="304.50" y2="410.57" stroke="#111" stroke-width="1.0" />
<text x="298.50" y="413.67" font-size="8.0" text-anchor="end" fill="#1a1a1a" font-weight="normal"  stroke="#1a1a1a" stroke-width="0.08">180</text>
<line x1="301.30" y1="402.00" x2="304.50" y2="402.00" stroke="#111" stroke-width="1.0" />
<text x="298.50" y="405.10" font-size="8.0" text-anchor="end" fill="#1a1a1a" font-weight="normal"  stroke="#1a1a1a" stroke-width="0.08">200</text>
<line x1="332.90" y1="487.70" x2="332.90" y2="490.70" stroke="#111" stroke-width="1.0" />
<text x="0" y="0" transform="translate(332.90,500.00) scale(0.94,1)" font-size="8.1" text-anchor="middle" fill="#1a1a1a" font-weight="normal"  stroke="#1a1a1a" stroke-width="0.08">PMA</text>
<line x1="373.88" y1="487.70" x2="373.88" y2="490.70" stroke="#111" stroke-width="1.0" />
<text x="0" y="0" transform="translate(373.88,500.00) scale(0.94,1)" font-size="8.1" text-anchor="middle" fill="#1a1a1a" font-weight="normal"  stroke="#1a1a1a" stroke-width="0.08">Botro</text>
<line x1="414.86" y1="487.70" x2="414.86" y2="490.70" stroke="#111" stroke-width="1.0" />
<text x="0" y="0" transform="translate(414.86,500.00) scale(0.94,1)" font-size="8.1" text-anchor="middle" fill="#1a1a1a" font-weight="normal"  stroke="#1a1a1a" stroke-width="0.08">AggA</text>
<line x1="455.84" y1="487.70" x2="455.84" y2="490.70" stroke="#111" stroke-width="1.0" />
<text x="0" y="0" transform="translate(455.84,500.00) scale(0.94,1)" font-size="8.1" text-anchor="middle" fill="#1a1a1a" font-weight="normal"  stroke="#1a1a1a" stroke-width="0.08">Coll</text>
<line x1="496.82" y1="487.70" x2="496.82" y2="490.70" stroke="#111" stroke-width="1.0" />
<text x="0" y="0" transform="translate(496.82,500.00) scale(0.94,1)" font-size="8.1" text-anchor="middle" fill="#1a1a1a" font-weight="normal"  stroke="#1a1a1a" stroke-width="0.08">CVX</text>
<text x="0" y="0" font-size="8.0" text-anchor="middle" fill="#1a1a1a" stroke="#1a1a1a" stroke-width="0.3" transform="translate(278.8,443.7) rotate(-90) scale(0.80,1)">AUC (WT set to 100)</text>
<line x1="305.20" y1="458.10" x2="507.00" y2="458.10" stroke="#d2324f" stroke-width="1.0" stroke-dasharray="1,1"/>
<polyline points="324.90,441.42 365.88,425.14 406.86,448.41 447.84,437.99 488.82,445.71" fill="none" stroke="#E0708A" stroke-width="1.3" stroke-linejoin="round"/>
<circle cx="324.90" cy="441.42" r="1.55" fill="#E0708A"/>
<circle cx="365.88" cy="425.14" r="1.55" fill="#E0708A"/>
<circle cx="406.86" cy="448.41" r="1.55" fill="#E0708A"/>
<circle cx="447.84" cy="437.99" r="1.55" fill="#E0708A"/>
<circle cx="488.82" cy="445.71" r="1.55" fill="#E0708A"/>
<polyline points="324.90,442.71 365.88,438.21 406.86,434.57 447.84,434.57 488.82,440.56" fill="none" stroke="#E0708A" stroke-width="1.3" stroke-linejoin="round"/>
<circle cx="324.90" cy="442.71" r="1.55" fill="#E0708A"/>
<circle cx="365.88" cy="438.21" r="1.55" fill="#E0708A"/>
<circle cx="406.86" cy="434.57" r="1.55" fill="#E0708A"/>
<circle cx="447.84" cy="434.57" r="1.55" fill="#E0708A"/>
<circle cx="488.82" cy="440.56" r="1.55" fill="#E0708A"/>
<polyline points="324.90,443.99 365.88,445.02 406.86,432.00 447.84,459.42 488.82,442.71" fill="none" stroke="#E0708A" stroke-width="1.3" stroke-linejoin="round"/>
<circle cx="324.90" cy="443.99" r="1.55" fill="#E0708A"/>
<circle cx="365.88" cy="445.02" r="1.55" fill="#E0708A"/>
<circle cx="406.86" cy="432.00" r="1.55" fill="#E0708A"/>
<circle cx="447.84" cy="459.42" r="1.55" fill="#E0708A"/>
<circle cx="488.82" cy="442.71" r="1.55" fill="#E0708A"/>
<polyline points="324.90,445.71 365.88,459.50 406.86,452.13 447.84,441.42 488.82,448.71" fill="none" stroke="#E0708A" stroke-width="1.3" stroke-linejoin="round"/>
<circle cx="324.90" cy="445.71" r="1.55" fill="#E0708A"/>
<circle cx="365.88" cy="459.50" r="1.55" fill="#E0708A"/>
<circle cx="406.86" cy="452.13" r="1.55" fill="#E0708A"/>
<circle cx="447.84" cy="441.42" r="1.55" fill="#E0708A"/>
<circle cx="488.82" cy="448.71" r="1.55" fill="#E0708A"/>
<polyline points="332.90,439.54 373.88,449.99 414.86,448.79 455.84,464.13 496.82,461.56" fill="none" stroke="#6E9AC2" stroke-width="1.3" stroke-linejoin="round"/>
<circle cx="332.90" cy="439.54" r="1.55" fill="#6E9AC2"/>
<circle cx="373.88" cy="449.99" r="1.55" fill="#6E9AC2"/>
<circle cx="414.86" cy="448.79" r="1.55" fill="#6E9AC2"/>
<circle cx="455.84" cy="464.13" r="1.55" fill="#6E9AC2"/>
<circle cx="496.82" cy="461.56" r="1.55" fill="#6E9AC2"/>
<polyline points="332.90,445.11 373.88,453.42 414.86,456.59 455.84,455.13 496.82,453.42" fill="none" stroke="#6E9AC2" stroke-width="1.3" stroke-linejoin="round"/>
<circle cx="332.90" cy="445.11" r="1.55" fill="#6E9AC2"/>
<circle cx="373.88" cy="453.42" r="1.55" fill="#6E9AC2"/>
<circle cx="414.86" cy="456.59" r="1.55" fill="#6E9AC2"/>
<circle cx="455.84" cy="455.13" r="1.55" fill="#6E9AC2"/>
<circle cx="496.82" cy="453.42" r="1.55" fill="#6E9AC2"/>
<polyline points="332.90,471.07 373.88,448.02 414.86,444.59 455.84,449.99 496.82,456.42" fill="none" stroke="#6E9AC2" stroke-width="1.3" stroke-linejoin="round"/>
<circle cx="332.90" cy="471.07" r="1.55" fill="#6E9AC2"/>
<circle cx="373.88" cy="448.02" r="1.55" fill="#6E9AC2"/>
<circle cx="414.86" cy="444.59" r="1.55" fill="#6E9AC2"/>
<circle cx="455.84" cy="449.99" r="1.55" fill="#6E9AC2"/>
<circle cx="496.82" cy="456.42" r="1.55" fill="#6E9AC2"/>
<polyline points="332.90,472.96 373.88,474.72 414.86,486.29 455.84,479.99 496.82,461.56" fill="none" stroke="#6E9AC2" stroke-width="1.3" stroke-linejoin="round"/>
<circle cx="332.90" cy="472.96" r="1.55" fill="#6E9AC2"/>
<circle cx="373.88" cy="474.72" r="1.55" fill="#6E9AC2"/>
<circle cx="414.86" cy="486.29" r="1.55" fill="#6E9AC2"/>
<circle cx="455.84" cy="479.99" r="1.55" fill="#6E9AC2"/>
<circle cx="496.82" cy="461.56" r="1.55" fill="#6E9AC2"/>
<polyline points="332.90,480.63 373.88,466.40 414.86,478.83 455.84,437.31 496.82,454.71" fill="none" stroke="#6E9AC2" stroke-width="1.3" stroke-linejoin="round"/>
<circle cx="332.90" cy="480.63" r="1.55" fill="#6E9AC2"/>
<circle cx="373.88" cy="466.40" r="1.55" fill="#6E9AC2"/>
<circle cx="414.86" cy="478.83" r="1.55" fill="#6E9AC2"/>
<circle cx="455.84" cy="437.31" r="1.55" fill="#6E9AC2"/>
<circle cx="496.82" cy="454.71" r="1.55" fill="#6E9AC2"/>
<polyline points="332.90,445.11 373.88,449.99 414.86,449.78 455.84,467.69 496.82,461.56" fill="none" stroke="#6E9AC2" stroke-width="1.3" stroke-linejoin="round"/>
<circle cx="332.90" cy="445.11" r="1.55" fill="#6E9AC2"/>
<circle cx="373.88" cy="449.99" r="1.55" fill="#6E9AC2"/>
<circle cx="414.86" cy="449.78" r="1.55" fill="#6E9AC2"/>
<circle cx="455.84" cy="467.69" r="1.55" fill="#6E9AC2"/>
<circle cx="496.82" cy="461.56" r="1.55" fill="#6E9AC2"/>
<text x="0" y="0" transform="translate(333.20,509.2) scale(0.93,1)" font-size="8.2" text-anchor="middle" fill="#d0284a" stroke="#d0284a" stroke-width="0.12"><tspan font-style="italic">p</tspan> = .05</text>
<text x="0" y="0" transform="translate(496.80,509.2) scale(0.93,1)" font-size="8.2" text-anchor="middle" fill="#d0284a" stroke="#d0284a" stroke-width="0.12"><tspan font-style="italic">p</tspan> &lt; .001</text>
</g></svg>
</body></html>
